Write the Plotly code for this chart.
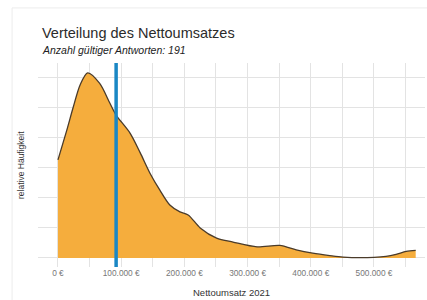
import plotly.graph_objects as go

# Density curve (x in €, y relative density in arbitrary grid units)
umsatz = [0, 14000, 24000, 35000, 47000, 66000, 82000, 92000,
          114000, 130000, 146000, 161000, 177000, 193000, 206000, 225000,
          251000, 277000, 315000, 351000, 377000, 403000, 430000, 451000, 500000,
          519000, 535000, 551000, 566000]
dichte = [3.26, 4.25, 5.0, 5.75, 6.15, 5.8, 5.15, 4.75,
          4.15, 3.5, 2.8, 2.26, 1.76, 1.53, 1.43, 1.0,
          0.66, 0.53, 0.37, 0.42, 0.27, 0.16, 0.08, 0.03, 0.02,
          0.05, 0.12, 0.22, 0.25]
mittelwert = 92000
tick_werte = [0, 100000, 200000, 300000, 400000, 500000]
tick_texte = ["0 €", "100.000 €", "200.000 €", "300.000 €", "400.000 €", "500.000 €"]

fig = go.Figure()
fig.add_trace(go.Scatter(
    x=umsatz, y=dichte, mode="lines", line=dict(color="#4a3b2a", width=1.3, shape="spline", smoothing=0.8),
    fill="tozeroy", fillcolor="#F5AD3D", hoverinfo="skip", showlegend=False))

fig.add_shape(type="line", x0=mittelwert, x1=mittelwert, xref="x", yref="paper", y0=0, y1=1,
              line=dict(color="#1a87c4", width=3.5))
fig.add_shape(type="rect", xref="paper", yref="paper", x0=-0.067, x1=1.02, y0=-0.2, y1=1.27,
              line=dict(color="#ececec", width=1), layer="below")

fig.update_layout(
    width=427, height=300,
    margin=dict(l=38, r=2, t=63, b=33),
    paper_bgcolor="white", plot_bgcolor="white",
    font=dict(family="Liberation Sans, Arial, sans-serif", color="#333"),
    annotations=[
        dict(text="Verteilung des Nettoumsatzes", xref="paper", yref="paper", x=0.005, y=1.0,
             xanchor="left", yanchor="middle", yshift=30, showarrow=False,
             font=dict(size=14.5, color="#2b2b2b")),
        dict(text="<i>Anzahl gültiger Antworten: 191</i>", xref="paper", yref="paper", x=0.005, y=1.0,
             xanchor="left", yanchor="middle", yshift=13, showarrow=False,
             font=dict(size=10.5, color="#222")),
        dict(text="Nettoumsatz 2021", xref="paper", yref="paper", x=0.5, y=0.0,
             xanchor="center", yanchor="middle", yshift=-25, showarrow=False,
             font=dict(size=9.5, color="#333")),
        dict(text="relative Häufigkeit", xref="paper", yref="paper", x=0.0, y=0.5,
             xanchor="center", yanchor="middle", xshift=-17, textangle=-90, showarrow=False,
             font=dict(size=8.5, color="#333")),
    ],
    xaxis=dict(range=[-31600, 580700], tickvals=tick_werte, ticktext=tick_texte, automargin=False,
               tickfont=dict(size=8.3, color="#777"), showgrid=True, gridcolor="#e3e3e3", gridwidth=1,
               minor=dict(dtick=50000, tick0=0, showgrid=True, gridcolor="#e3e3e3"),
               zeroline=False, showline=False, ticks=""),
    yaxis=dict(range=[-0.3, 6.48], dtick=1, showticklabels=False, showgrid=True, gridcolor="#e3e3e3",
               zeroline=False, showline=False, ticks="", automargin=False),
)

fig.write_html("out.html", config={"displayModeBar": False},
               post_script="document.body.style.margin='0';")
